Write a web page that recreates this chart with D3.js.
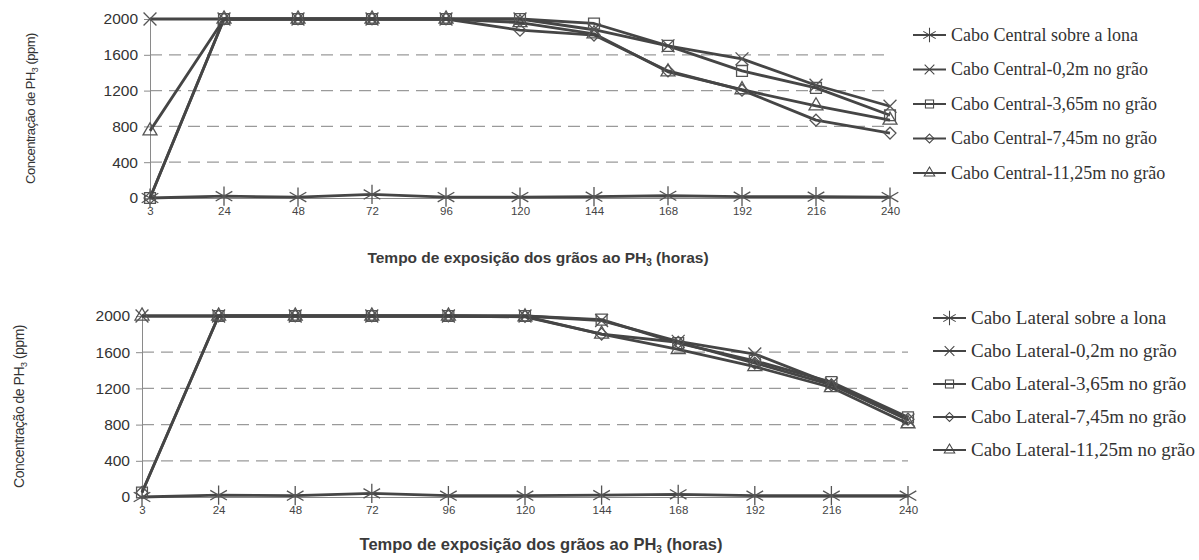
<!DOCTYPE html>
<html>
<head>
<meta charset="utf-8">
<script src="https://cdn.jsdelivr.net/npm/d3@7"></script>
<style>
  body { margin: 0; background: #fff; }
  svg { display: block; }
</style>
</head>
<body>
<svg id="chart" width="1199" height="560"></svg>
<script>
'use strict';

// tempo de exposição (horas)
var hours = ['3', '24', '48', '72', '96', '120', '144', '168', '192', '216', '240'];
var yTicks = [0, 400, 800, 1200, 1600, 2000];

// cabo central (ppm)
var centralSobre = [0, 20, 10, 40, 10, 10, 15, 25, 15, 15, 10];
var central02 = [2000, 2000, 2000, 2000, 2000, 2000, 1880, 1700, 1555, 1260, 1025];
var central365 = [0, 2000, 2000, 2000, 2000, 2000, 1950, 1700, 1420, 1230, 925];
var central745 = [0, 2000, 2000, 2000, 2000, 1875, 1820, 1420, 1205, 870, 725];
var central1125 = [750, 2000, 2000, 2000, 2000, 1960, 1835, 1410, 1210, 1030, 870];

// cabo lateral (ppm)
var lateralSobre = [0, 20, 15, 40, 15, 15, 20, 30, 15, 15, 15];
var lateral02 = [2000, 2000, 2000, 2000, 2000, 2000, 1950, 1720, 1580, 1250, 850];
var lateral365 = [50, 2000, 2000, 2000, 2000, 2000, 1960, 1700, 1505, 1270, 880];
var lateral745 = [50, 2000, 2000, 2000, 2000, 1995, 1800, 1710, 1480, 1240, 860];
var lateral1125 = [2000, 2000, 2000, 2000, 2000, 1990, 1800, 1630, 1440, 1210, 810];

var centralLabels = ['Cabo Central sobre a lona', 'Cabo Central-0,2m no grão', 'Cabo Central-3,65m no grão',
  'Cabo Central-7,45m no grão', 'Cabo Central-11,25m no grão'];
var lateralLabels = ['Cabo Lateral sobre a lona', 'Cabo Lateral-0,2m no grão', 'Cabo Lateral-3,65m no grão',
  'Cabo Lateral-7,45m no grão', 'Cabo Lateral-11,25m no grão'];

// marker per series, same order in both charts
var symbols = [
  d3.symbol().type(d3.symbolAsterisk).size(260),
  d3.symbol().type(d3.symbolTimes).size(110),
  d3.symbol().type(d3.symbolSquare2).size(150),
  d3.symbol().type(d3.symbolDiamond2).size(90),
  d3.symbol().type(d3.symbolTriangle2).size(140)
];

var svg = d3.select('#chart');
var ink = '#454545';

var drawChart = function (opt) {
  var x = d3.scalePoint().domain(hours).range([opt.left, opt.right]);
  var y = d3.scaleLinear().domain([0, 2000]).range([opt.bottom, opt.top]);
  var g = svg.append('g');

  // dashed grid
  g.selectAll('.grid').data(yTicks.filter(function (d) { return d > 0 && d < 2000; }))
    .enter().append('line')
    .attr('x1', opt.left).attr('x2', opt.right)
    .attr('y1', function (d) { return y(d); }).attr('y2', function (d) { return y(d); })
    .style('stroke', '#9a9a9a').style('stroke-width', 1.2)
    .style('stroke-dasharray', '12,7');

  var ya = g.append('g').attr('transform', 'translate(' + opt.left + ',0)')
    .call(d3.axisLeft(y).tickValues(yTicks).tickFormat(d3.format('d')).tickSize(6).tickPadding(6));
  ya.select('.domain').style('stroke', '#8a8a8a');
  ya.selectAll('.tick line').style('stroke', '#8a8a8a');
  ya.selectAll('text').style('font-family', 'Liberation Sans, Arial, sans-serif')
    .style('font-size', '15.5px').style('fill', '#333');

  var xa = g.append('g').attr('transform', 'translate(0,' + opt.bottom + ')')
    .call(d3.axisBottom(x).tickSize(0).tickPadding(9));
  xa.select('.domain').style('stroke', '#8a8a8a');
  xa.selectAll('text').style('font-family', 'Liberation Sans, Arial, sans-serif')
    .style('font-size', '11.5px').style('fill', '#444');

  var line = d3.line()
    .x(function (d, i) { return x(hours[i]); })
    .y(function (d) { return y(d); });

  opt.series.forEach(function (vals, k) {
    g.append('path').datum(vals).attr('d', line)
      .style('fill', 'none').style('stroke', ink).style('stroke-width', 2.8)
      .style('stroke-linejoin', 'round');
    g.selectAll('.m' + k).data(vals).enter().append('path')
      .attr('transform', function (d, i) { return 'translate(' + x(hours[i]) + ',' + y(d) + ')'; })
      .attr('d', symbols[k])
      .style('fill', 'none').style('stroke', '#555').style('stroke-width', 1.3);
  });

  // y title
  var yt = g.append('text')
    .attr('transform', 'translate(' + opt.ytX + ',' + ((opt.top + opt.bottom) / 2) + ') rotate(-90)')
    .attr('text-anchor', 'middle')
    .style('font-family', 'Liberation Sans, Arial, sans-serif').style('font-size', opt.ytSize + 'px')
    .style('letter-spacing', '-0.5px').style('fill', '#333');
  yt.append('tspan').text('Concentração de PH');
  yt.append('tspan').text('3').attr('dy', 3).style('font-size', '9px');
  yt.append('tspan').text(' (ppm)').attr('dy', -3);

  // x title
  var xt = g.append('text').attr('x', opt.xtX).attr('y', opt.xtY)
    .attr('text-anchor', 'middle')
    .style('font-family', 'Liberation Sans, Arial, sans-serif').style('font-size', opt.xtSize + 'px')
    .style('font-weight', 'bold').style('fill', '#3a3a3a');
  xt.append('tspan').text('Tempo de exposição dos grãos ao PH');
  xt.append('tspan').text('3').attr('dy', 3).style('font-size', '10px');
  xt.append('tspan').text(' (horas)').attr('dy', -3);

  // legend
  var lg = g.selectAll('.lg').data(opt.labels).enter().append('g')
    .attr('transform', function (d, i) { return 'translate(' + opt.legX + ',' + (opt.legY + i * opt.legStep) + ')'; });
  lg.append('line').attr('x1', 0).attr('x2', 33)
    .style('stroke', ink).style('stroke-width', 2);
  lg.append('path').attr('transform', 'translate(16.5,0) scale(0.75)')
    .attr('d', function (d, i) { return symbols[i](); })
    .style('fill', 'none').style('stroke', ink).style('stroke-width', 1.4);
  lg.append('text').attr('x', 38).attr('dy', '0.33em').text(function (d) { return d; })
    .style('font-family', 'Liberation Serif, Times New Roman, serif').style('font-size', opt.legSize + 'px')
    .style('fill', '#333');
};

drawChart({
  left: 150, right: 890, top: 19, bottom: 198,
  series: [centralSobre, central02, central365, central745, central1125],
  labels: centralLabels,
  ytX: 35, ytSize: 13, xtX: 538, xtY: 263, xtSize: 15.5,
  legX: 913, legY: 35, legStep: 34.5, legSize: 18
});

drawChart({
  left: 142, right: 908, top: 316, bottom: 497,
  series: [lateralSobre, lateral02, lateral365, lateral745, lateral1125],
  labels: lateralLabels,
  ytX: 24, ytSize: 14, xtX: 541, xtY: 550, xtSize: 16.5,
  legX: 933, legY: 318, legStep: 33, legSize: 19
});
</script>
</body>
</html>
